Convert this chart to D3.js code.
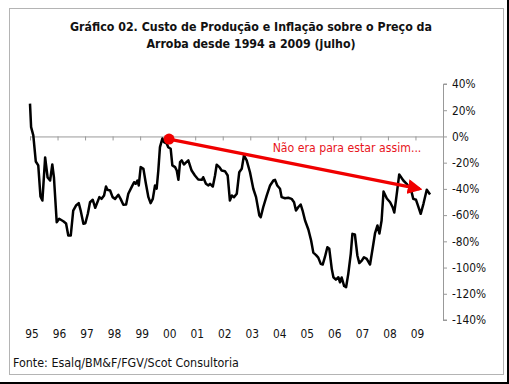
<!DOCTYPE html>
<html>
<head>
<meta charset="utf-8">
<script src="https://cdn.jsdelivr.net/npm/d3@7"></script>
<style>
  body { margin: 0; background: #fff; }
  text { font-family: Tahoma, "DejaVu Sans Condensed", sans-serif; }
</style>
</head>
<body>
<div id="svg-container"></div>
<script>
// data (decimal year, % value)
var years = [1995.00, 1995.04, 1995.12, 1995.21, 1995.30, 1995.38, 1995.45, 1995.55, 1995.64, 1995.73,
    1995.81, 1995.87, 1995.97, 1996.06, 1996.21, 1996.31, 1996.39, 1996.48, 1996.57, 1996.67,
    1996.77, 1996.84, 1996.94, 1997.01, 1997.10, 1997.18, 1997.28, 1997.37, 1997.52, 1997.60,
    1997.69, 1997.76, 1997.81, 1997.91, 1998.00, 1998.09, 1998.21, 1998.29, 1998.39, 1998.49,
    1998.57, 1998.69, 1998.78, 1998.84, 1998.90, 1998.95, 1999.02, 1999.12, 1999.20, 1999.30,
    1999.38, 1999.46, 1999.54, 1999.60, 1999.66, 1999.72, 1999.81, 1999.87, 1999.97, 2000.02,
    2000.11, 2000.17, 2000.27, 2000.33, 2000.39, 2000.45, 2000.51, 2000.59, 2000.67, 2000.75,
    2000.87, 2000.99, 2001.11, 2001.24, 2001.29, 2001.39, 2001.48, 2001.54, 2001.64, 2001.72,
    2001.78, 2001.88, 2001.96, 2002.08, 2002.18, 2002.26, 2002.33, 2002.41, 2002.51, 2002.60,
    2002.69, 2002.77, 2002.87, 2002.99, 2003.11, 2003.21, 2003.33, 2003.38, 2003.47, 2003.60,
    2003.72, 2003.84, 2003.90, 2003.98, 2004.08, 2004.14, 2004.26, 2004.38, 2004.50, 2004.59,
    2004.66, 2004.74, 2004.83, 2004.90, 2004.99, 2005.11, 2005.21, 2005.29, 2005.39, 2005.47,
    2005.56, 2005.63, 2005.71, 2005.80, 2005.87, 2005.96, 2006.02, 2006.11, 2006.20, 2006.26,
    2006.32, 2006.41, 2006.48, 2006.56, 2006.65, 2006.71, 2006.80, 2006.89, 2006.96, 2007.05,
    2007.13, 2007.23, 2007.35, 2007.45, 2007.53, 2007.62, 2007.69, 2007.77, 2007.84, 2007.96,
    2008.08, 2008.17, 2008.23, 2008.29, 2008.41, 2008.56, 2008.68, 2008.78, 2008.86, 2008.92,
    2009.02, 2009.10, 2009.19, 2009.29, 2009.41, 2009.53];

var values = [25.0, 7.1, 0.8, -19.1, -22.1, -45.8, -48.9, -16.0, -31.3, -33.6,
    -21.4, -31.3, -65.4, -62.8, -64.7, -66.4, -75.6, -75.6, -56.5, -52.7,
    -50.9, -56.5, -66.6, -66.2, -59.0, -50.2, -48.3, -54.4, -46.3, -47.6,
    -45.0, -38.2, -40.7, -41.2, -46.3, -47.6, -44.5, -47.6, -52.1, -51.9,
    -43.7, -38.7, -34.9, -36.1, -33.6, -37.4, -23.4, -24.7, -34.9, -46.3,
    -50.9, -47.6, -37.4, -39.9, -26.0, -8.2, -1.5, -4.4, -5.6, -8.2,
    -9.4, -22.1, -23.4, -26.0, -33.1, -19.6, -18.3, -21.4, -19.8, -18.3,
    -26.0, -29.8, -32.8, -33.1, -31.1, -36.1, -37.4, -36.1, -38.2, -29.8,
    -21.6, -23.4, -26.0, -26.5, -29.8, -48.9, -45.0, -46.3, -43.7, -27.3,
    -24.7, -14.5, -18.3, -27.3, -39.9, -46.3, -60.3, -61.6, -54.0, -45.0,
    -37.4, -33.6, -33.1, -37.4, -39.9, -46.3, -47.1, -46.8, -47.6, -50.2,
    -56.5, -54.0, -51.9, -56.5, -64.1, -71.0, -79.4, -88.6, -90.5, -92.4,
    -97.2, -97.7, -92.1, -84.5, -85.7, -101.0, -107.4, -109.2, -107.4, -111.2,
    -107.6, -114.1, -115.0, -104.8, -89.5, -74.3, -74.8, -90.8, -96.6, -94.7,
    -92.1, -93.4, -97.7, -84.7, -74.0, -67.9, -74.0, -64.1, -42.0, -47.3,
    -50.2, -54.0, -58.0, -48.9, -29.0, -33.6, -36.1, -39.2, -42.5, -47.6,
    -48.3, -53.4, -59.0, -51.4, -40.7, -44.3];

var yearTicks = [1995, 1996, 1997, 1998, 1999, 2000, 2001, 2002, 2003, 2004, 2005, 2006, 2007, 2008, 2009];
var yearLabels = ["95", "96", "97", "98", "99", "00", "01", "02", "03", "04", "05", "06", "07", "08", "09"];
var pctTicks = [40, 20, 0, -20, -40, -60, -80, -100, -120, -140];

// annotation arrow: start / end as [year, %]
var arrowFrom = [2000.05, -2];
var arrowTo = [2009.15, -40];
var arrowText = "Não era para estar assim...";

var titleLines = ["Gráfico 02. Custo de Produção e Inflação sobre o Preço da",
    "Arroba desde 1994 a 2009 (julho)"];
var sourceText = "Fonte: Esalq/BM&F/FGV/Scot Consultoria";

var W = 509, H = 384;

var svg = d3.select("#svg-container")
    .append("svg")
    .attr("width", W)
    .attr("height", H);

// frame + black edge
svg.append("rect")
    .attr("x", 9.5).attr("y", 8.5)
    .attr("width", 494).attr("height", 366)
    .style("fill", "white")
    .style("stroke", "#b4b4b4")
    .style("stroke-width", 1);
svg.append("line").attr("x1", 508).attr("x2", 508).attr("y1", 0).attr("y2", H)
    .style("stroke", "black").style("stroke-width", 2);
svg.append("line").attr("x1", 0).attr("x2", W).attr("y1", 383).attr("y2", 383)
    .style("stroke", "black").style("stroke-width", 2);

// title
svg.selectAll(".title")
    .data(titleLines)
    .enter().append("text")
    .attr("class", "title")
    .attr("x", 251)
    .attr("y", function(d, i) { return 31 + i * 17; })
    .attr("text-anchor", "middle")
    .style("font-weight", "bold")
    .style("font-size", "12.3px")
    .style("fill", "#111")
    .text(function(d) { return d; });

var x = d3.scaleLinear().domain([1995, 2010]).range([30, 443]);
var y = d3.scaleLinear().domain([40, -140]).range([84, 320]);

// right value axis
var yAxis = svg.append("g")
    .attr("transform", "translate(443,0)")
    .call(d3.axisRight(y)
        .tickValues(pctTicks)
        .tickSize(4)
        .tickPadding(5)
        .tickFormat(function(d) { return d + "%"; }));
yAxis.select(".domain").style("stroke", "#999").attr("d", "M4," + y(40) + "H0.5V" + y(-140) + "H4");
yAxis.selectAll(".tick line").style("stroke", "#999");
yAxis.selectAll("text")
    .style("font-size", "11.8px")
    .style("font-family", "Tahoma, 'DejaVu Sans Condensed', sans-serif")
    .style("fill", "#111");

// zero line with year ticks
var xAxis = svg.append("g")
    .attr("transform", "translate(0," + y(0) + ")")
    .call(d3.axisBottom(x)
        .tickValues(yearTicks.concat([2010]))
        .tickSize(4)
        .tickFormat(""));
xAxis.select(".domain").style("stroke", "#999").attr("d", "M" + x(1995) + ",0.5H" + x(2010));
xAxis.selectAll(".tick line").style("stroke", "#999");

// year labels at the bottom
svg.selectAll(".yl")
    .data(yearTicks)
    .enter().append("text")
    .attr("class", "yl")
    .attr("x", function(d) { return x(d) + 2; })
    .attr("y", 338)
    .attr("text-anchor", "middle")
    .style("font-size", "11.8px")
    .style("fill", "#111")
    .text(function(d, i) { return yearLabels[i]; });

// series line
var line = d3.line()
    .x(function(d, i) { return x(years[i]); })
    .y(function(d) { return y(d); });

svg.append("path")
    .datum(values)
    .attr("d", line)
    .style("fill", "none")
    .style("stroke", "black")
    .style("stroke-width", 2.5)
    .style("stroke-linejoin", "round");

// red arrow
var red = "#f00000";
svg.append("defs").append("marker")
    .attr("id", "head")
    .attr("viewBox", "0 0 10 10")
    .attr("refX", 8).attr("refY", 5)
    .attr("markerWidth", 4.6).attr("markerHeight", 4.6)
    .attr("markerUnits", "strokeWidth")
    .attr("orient", "auto")
    .append("path")
    .attr("d", "M0,0L10,5L0,10z")
    .style("fill", red);

svg.append("line")
    .attr("x1", x(arrowFrom[0])).attr("y1", y(arrowFrom[1]))
    .attr("x2", x(arrowTo[0])).attr("y2", y(arrowTo[1]))
    .style("stroke", red)
    .style("stroke-width", 3.2)
    .attr("marker-end", "url(#head)");

svg.append("circle")
    .attr("cx", x(arrowFrom[0])).attr("cy", y(arrowFrom[1]))
    .attr("r", 5.5)
    .style("fill", red);

svg.append("text")
    .attr("x", 347)
    .attr("y", 152)
    .attr("text-anchor", "middle")
    .style("font-size", "12.2px")
    .style("fill", "#e8141c")
    .text(arrowText);

// source
svg.append("text")
    .attr("x", 13)
    .attr("y", 367)
    .style("font-size", "12.4px")
    .style("fill", "#111")
    .text(sourceText);
</script>
</body>
</html>
